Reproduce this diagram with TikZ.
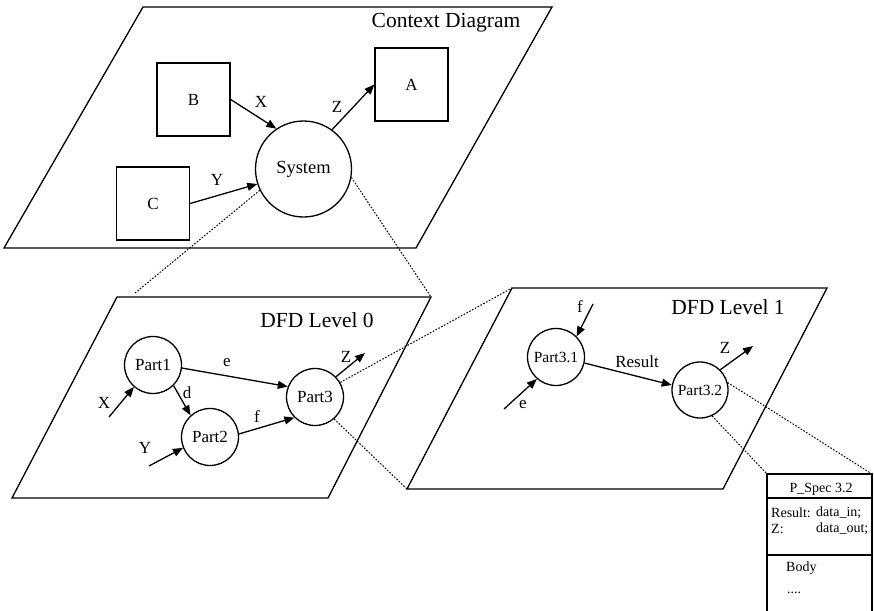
\documentclass[tikz,border=0pt]{standalone}
\usepackage{fontspec}
\setmainfont{Liberation Serif}
\usetikzlibrary{arrows.meta}

\begin{document}
\begin{tikzpicture}[x=1pt,y=-1pt,
    plane/.style={line width=1.3pt,line join=miter},
    flow/.style={line width=1.3pt,-{Triangle[length=10pt,width=8pt]}},
    zoomline/.style={line width=1pt,dash pattern=on 1.6pt off 1.6pt},
    proc/.style={draw,circle,line width=1.3pt,inner sep=0pt,font=\fontsize{17}{20}\selectfont},
    ext/.style={draw,rectangle,line width=1.3pt,minimum width=73pt,minimum height=73pt,font=\fontsize{17}{20}\selectfont},
    lbl/.style={inner sep=0pt,font=\fontsize{17}{20}\selectfont},
    title/.style={inner sep=0pt,font=\fontsize{21.5}{25}\selectfont},
    spec/.style={inner sep=0pt,font=\fontsize{14}{17}\selectfont}]
  \useasboundingbox (0,0) rectangle (874,610);

  % context diagram
  \draw[plane] (143,7) -- (552,7) -- (416,248) -- (4,248) -- cycle;
  \node[title] (ctx) at (446,23) {Context Diagram};
  \node[ext] (B) at (193.5,99.5) {B};
  \node[ext] (A) at (411.5,84.5) {A};
  \node[ext] (C) at (153,203.5) {C};
  \node[proc,minimum size=96pt,font=\fontsize{18.5}{22}\selectfont] (sys) at (303.5,169) {System};
  \draw[flow] (B.east) -- (sys.124);
  \draw[flow] (sys.54) -- (A.west);
  \draw[flow] (C.east) -- (sys.198);
  \node[lbl] (bx) at (261,102) {X};
  \node[lbl] (az) at (337,107) {Z};
  \node[lbl] (cy) at (217,180) {Y};

  % DFD level 0
  \draw[plane] (117,297) -- (431,297) -- (328,498) -- (12,498) -- cycle;
  \node[title] (lev0) at (317,320) {DFD Level 0};
  \node[proc,minimum size=57pt] (p1) at (153,365) {Part1};
  \node[proc,minimum size=57pt] (p2) at (210,437) {Part2};
  \node[proc,minimum size=57pt] (p3) at (315,397) {Part3};
  \coordinate (xin) at (109,417);
  \coordinate (yin) at (149,466);
  \coordinate (zout) at (365,353);
  \draw[flow] (xin) -- (p1.229);
  \draw[flow] (p1.-6) -- (p3.159);
  \draw[flow] (p1.-45) -- (p2.132);
  \draw[flow] (p2.6) -- (p3.225);
  \draw[flow] (yin) -- (p2.202);
  \draw[flow] (p3.44) -- (zout);
  \node[lbl] (lx) at (104,403) {X};
  \node[lbl] (le) at (227,363) {e};
  \node[lbl] (ld) at (187,393) {d};
  \node[lbl] (lf) at (257,417) {f};
  \node[lbl] (ly) at (145,448) {Y};
  \node[lbl] (lz) at (346,357) {Z};

  % DFD level 1
  \draw[plane] (512,288) -- (827,288) -- (723,489) -- (407,489) -- cycle;
  \node[title] (lev1) at (728,307) {DFD Level 1};
  \node[proc,minimum size=57pt,font=\fontsize{15.5}{18}\selectfont] (p31) at (556,357) {Part3.1};
  \node[proc,minimum size=56pt,font=\fontsize{15.5}{18}\selectfont] (p32) at (700,390) {Part3.2};
  \coordinate (fin) at (593,304);
  \coordinate (ein) at (504,409);
  \coordinate (zout1) at (753,346);
  \draw[flow] (fin) -- (p31.45);
  \draw[flow] (ein) -- (p31.229);
  \draw[flow] (p31.-12) -- (p32.170);
  \draw[flow] (p32.45) -- (zout1);
  \node[lbl] (mf) at (580,307) {f};
  \node[lbl] (me) at (523,405) {e};
  \node[lbl] (mres) at (637,362) {Result};
  \node[lbl] (mz) at (725,348) {Z};

  % P_Spec box
  \coordinate (stl) at (767,474);
  \coordinate (str) at (872,474);
  \draw[plane] (767,612) -- (stl) -- (str) -- (872,612);
  \draw[plane] (767,498) -- (872,498);
  \draw[plane] (767,555) -- (872,555);
  \node[spec] (stitle) at (821,489) {P\_Spec 3.2};
  \node[spec,anchor=west] (sres) at (771,513) {Result:};
  \node[spec,anchor=west] (sin) at (816,513) {data\_in;};
  \node[spec,anchor=west] (sz) at (771,529) {Z:};
  \node[spec,anchor=west] (sout) at (816,529) {data\_out;};
  \node[spec,anchor=west] (sbody) at (786,568) {Body};
  \node[spec,anchor=west] (sdots) at (787,593) {....};

  % zoom lines
  \coordinate (l0a) at (135,293);
  \coordinate (l0b) at (431,297);
  \coordinate (l1a) at (512,288);
  \coordinate (l1b) at (407,489);
  \draw[zoomline] (sys.206) -- (l0a);
  \draw[zoomline] (sys.-10) -- (l0b);
  \draw[zoomline] (p3.30) -- (l1a);
  \draw[zoomline] (p3.-49) -- (l1b);
  \draw[zoomline] (p32.15) -- (str);
  \draw[zoomline] (p32.-65) -- (stl);
\end{tikzpicture}
\end{document}
